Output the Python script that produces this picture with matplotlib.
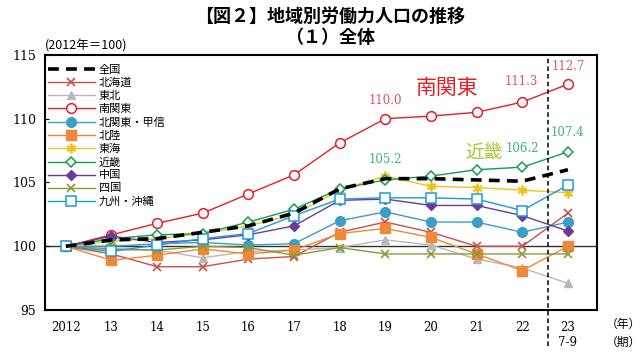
import numpy as np
import matplotlib.pyplot as plt

plt.rcParams['font.family'] = ['Noto Sans CJK JP', 'DejaVu Sans']

# ===================== データ (2012年=100) =====================
years = ['2012', '13', '14', '15', '16', '17', '18', '19', '20', '21', '22', '23']

zenkoku     = [100, 100.5, 100.6, 101.1, 101.6, 102.6, 104.5, 105.3, 105.3, 105.2, 105.1, 106.0]
hokkaido    = [100, 99.4, 98.4, 98.4, 99.0, 99.2, 101.1, 101.9, 101.1, 100.0, 100.0, 102.6]
tohoku      = [100, 99.7, 99.7, 99.1, 99.6, 99.7, 99.9, 100.5, 100.1, 99.0, 98.3, 97.1]
minami_kanto = [100, 100.9, 101.8, 102.6, 104.1, 105.6, 108.1, 110.0, 110.2, 110.5, 111.3, 112.7]
kita_kanto  = [100, 100.0, 100.2, 100.3, 100.1, 100.2, 102.0, 102.7, 101.9, 101.9, 101.1, 101.9]
hokuriku    = [100, 98.9, 99.3, 99.8, 99.4, 99.7, 101.0, 101.4, 100.7, 99.4, 98.1, 100.0]
tokai       = [100, 100.4, 100.6, 101.0, 101.6, 102.5, 104.4, 105.5, 104.7, 104.6, 104.4, 104.2]
kinki       = [100, 100.6, 100.9, 101.0, 101.9, 102.9, 104.5, 105.2, 105.5, 106.0, 106.2, 107.4]
chugoku     = [100, 100.8, 100.3, 100.5, 100.9, 101.6, 103.6, 103.7, 103.2, 103.2, 102.4, 101.2]
shikoku     = [100, 99.8, 99.7, 100.0, 99.9, 99.3, 99.9, 99.4, 99.4, 99.4, 99.4, 99.4]
kyushu      = [100, 99.6, 100.1, 100.6, 101.0, 102.4, 103.7, 103.8, 103.8, 103.7, 102.8, 104.8]

series = [
    ('全国', zenkoku),
    ('北海道', hokkaido),
    ('東北', tohoku),
    ('南関東', minami_kanto),
    ('北関東・甲信', kita_kanto),
    ('北陸', hokuriku),
    ('東海', tokai),
    ('近畿', kinki),
    ('中国', chugoku),
    ('四国', shikoku),
    ('九州・沖縄', kyushu),
]
# ===============================================================

styles = {
    '全国':       dict(color='black', ls=(0, (3, 2)), lw=2.6, marker=None),
    '北海道':     dict(color='#c8504a', lw=1.0, marker='x', ms=6, mew=1.2),
    '東北':       dict(color='#b8b8b8', lw=1.0, marker='^', ms=6),
    '南関東':     dict(color='#e3202a', lw=1.0, marker='o', ms=7, mfc='white', mew=1.1),
    '北関東・甲信': dict(color='#3a9ec6', lw=1.0, marker='o', ms=7),
    '北陸':       dict(color='#f0883a', lw=1.0, marker='s', ms=6.5),
    '東海':       dict(color='#f2c21a', lw=1.0, marker=(6, 2, 0), ms=7, mew=1.3),
    '近畿':       dict(color='#1a9a50', lw=1.0, marker='D', ms=5.5, mfc='white', mew=1.1),
    '中国':       dict(color='#6a3d9a', lw=1.0, marker='D', ms=5),
    '四国':       dict(color='#8a9a38', lw=1.0, marker='x', ms=6, mew=1.2),
    '九州・沖縄':  dict(color='#1e9ad8', lw=1.0, marker='s', ms=7, mfc='white', mew=1.1),
}

fig = plt.figure(figsize=(6.4, 3.54), dpi=100)
ax = fig.add_axes([0.070, 0.124, 0.863, 0.721])

x = np.arange(len(years))
ax.axhline(100, color='#333333', lw=1.0, zorder=1)

for name, vals in series:
    ax.plot(x, vals, label=name, zorder=3 if name != '全国' else 4, **styles[name])

ax.set_xlim(-0.46, 11.64)
ax.set_ylim(95, 115)
ax.set_yticks([95, 100, 105, 110, 115])
ax.set_xticks(x)
ax.set_xticklabels(years, family='DejaVu Serif', fontsize=8.5)
for t in ax.get_yticklabels():
    t.set_family('DejaVu Serif')
    t.set_fontsize(9)
ax.tick_params(axis='y', direction='in', length=3, pad=6)
ax.tick_params(axis='x', length=0, pad=8)
for s in ax.spines.values():
    s.set_linewidth(1.5)

# 23年 7-9期 の区切り線
ax.axvline(10.57, ymin=-0.14, ymax=1.0, color='black', ls=(0, (3, 2)), lw=1.1,
           clip_on=False, zorder=5)

ax.text(11, -0.125, '7-9', transform=ax.get_xaxis_transform(), ha='center',
        va='center', fontsize=8.5, family='DejaVu Serif')
ax.text(1.015, -0.055, '（年）', transform=ax.transAxes, ha='left', va='center', fontsize=8.5)
ax.text(1.015, -0.125, '（期）', transform=ax.transAxes, ha='left', va='center', fontsize=8.5)
ax.text(0.0, 1.01, '(2012年＝100)', transform=ax.transAxes, ha='left', va='bottom',
        fontsize=9)

# 数値ラベル
red_lab = '#e05060'
grn_lab = '#40b080'
lab_kw = dict(ha='center', va='center', fontsize=8.5, family='DejaVu Serif')
ax.text(7.0, 111.45, '110.0', color=red_lab, **lab_kw)
ax.text(9.98, 112.9, '111.3', color=red_lab, **lab_kw)
ax.text(11.0, 114.1, '112.7', color=red_lab, **lab_kw)
ax.text(7.0, 106.8, '105.2', color=grn_lab, **lab_kw)
ax.text(10.0, 107.7, '106.2', color=grn_lab, **lab_kw)
ax.text(11.0, 108.9, '107.4', color=grn_lab, **lab_kw)
ax.text(8.36, 112.4, '南関東', color='#e3202a', fontsize=15, ha='center', va='center')
ax.text(9.17, 107.4, '近畿', color='#a8c838', fontsize=13.5, ha='center', va='center')

ax.legend(loc='upper left', bbox_to_anchor=(0.0, 0.975), frameon=False,
          fontsize=8, handlelength=4.2, handletextpad=0.35, labelspacing=0.27,
          borderaxespad=0.2, borderpad=0.1)

fig.text(0.515, 0.955, '【図２】地域別労働力人口の推移', ha='center', va='center',
         fontsize=13, fontweight='bold')
fig.text(0.515, 0.895, '（１）全体', ha='center', va='center', fontsize=13,
         fontweight='bold')

fig.savefig('out.png', dpi=100)
